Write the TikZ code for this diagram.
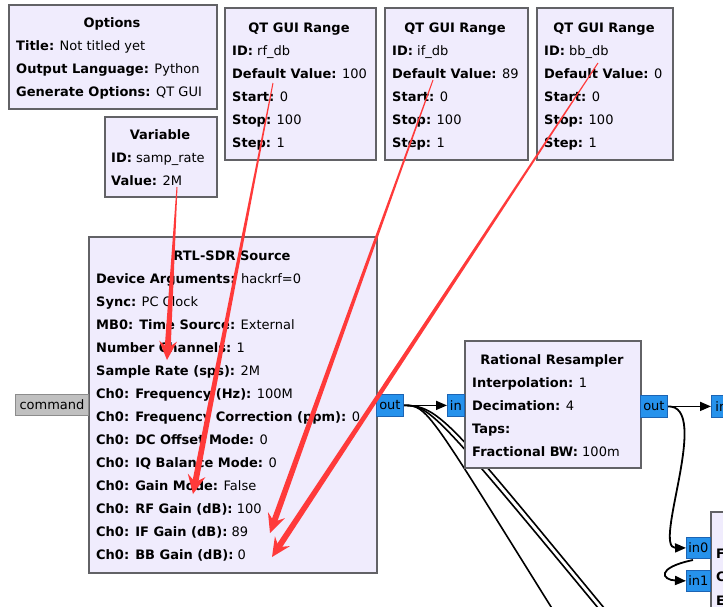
\documentclass[tikz,border=0pt]{standalone}
\usepackage{fontspec}
\setmainfont{DejaVu Sans}
\usetikzlibrary{positioning,calc,arrows.meta}

\definecolor{blkfill}{RGB}{240,236,253}
\definecolor{blkline}{RGB}{98,98,102}
\definecolor{portblue}{RGB}{38,146,236}
\definecolor{portline}{RGB}{28,100,180}
\definecolor{cmdgray}{RGB}{192,192,192}
\definecolor{cmdline}{RGB}{140,140,140}
\definecolor{annot}{RGB}{255,58,58}

\newcommand\kv[2]{\textbf{#1:} #2}
% tapered red hand-drawn arrow
\newcommand\markarrow[2]{%
  \fill[annot] ($(#1)!0.5pt!90:(#2)$) -- ($(#2)!12pt!(#1)!3pt!90:(#2)$)
    -- ($(#2)!12pt!(#1)!3pt!-90:(#2)$) -- ($(#1)!0.5pt!-90:(#2)$) -- cycle;
  \fill[annot] (#2) -- ($(#2)!19pt!(#1)!9pt!90:(#2)$) -- ($(#2)!12pt!(#1)$)
    -- ($(#2)!19pt!(#1)!9pt!-90:(#2)$) -- cycle;}

\tikzset{
  blk/.style={draw=blkline,fill=blkfill,line width=2.4pt,anchor=north west,inner sep=0pt},
  ttl/.style={font=\fontsize{13}{16}\selectfont\bfseries,anchor=base,inner sep=0pt},
  prm/.style={anchor=base west,inner sep=0pt},
  port/.style={draw=portline,fill=portblue,line width=0.8pt,inner sep=0pt,anchor=north west,minimum height=22pt},
  wire/.style={line width=1.8pt,-{Triangle[length=11pt,width=9pt]}},
  bus/.style={line width=1.6pt},
}

\begin{document}
\begin{tikzpicture}[x=1pt,y=-1pt,font=\fontsize{13}{16}\selectfont]
\useasboundingbox (0,0) rectangle (723,606);
\clip (0,0) rectangle (723,606);

% wires under the blocks
\coordinate (offA) at (563,626);
\coordinate (offB) at (613,626);
\coordinate (offC) at (619,626);
\coordinate (in1From) at (693,560);
\node[port,minimum width=27pt] (srcOut) at (376,394) {out};
\node[port,minimum width=17pt] (rsIn) at (447,394) {in};
\node[port,minimum width=27pt] (rsOut) at (640,395) {out};
\node[port,minimum width=20pt] (nextIn) at (711,395) {in};
\node[port,minimum width=24pt,minimum height=21pt] (in0) at (686,537) {in0};
\node[port,minimum width=24pt,minimum height=21pt] (in1) at (686,570) {in1};
\draw[bus] (srcOut.east) .. controls (428,405) and (428,410) .. (offA);
\draw[bus] (srcOut.east) .. controls (430,405) and (436,412) .. (offB);
\draw[bus] (srcOut.east) .. controls (440,405) and (452,424) .. (offC);
\draw[wire] (srcOut.east) -- (rsIn.west);
\draw[wire] (rsOut.east) -- (nextIn.west);
\draw[wire] (rsOut.east) .. controls (712,405) and (652,548) .. (in0.west);
\draw[wire] (in1From) .. controls (655,568) and (662,580) .. (in1.west);

% Options
\node[blk,minimum width=208pt,minimum height=104pt] (opt) at (8,4) {};
\node[ttl] (optT) at (112,27) {Options};
\foreach \t [count=\i] in {\kv{Title}{Not titled yet},\kv{Output Language}{Python},\kv{Generate Options}{QT GUI}}
  \node[prm] (opt\i) at (16,27+23*\i) {\t};

% Variable
\node[blk,minimum width=112pt,minimum height=80pt] (var) at (104,116) {};
\node[ttl] (varT) at (160,139) {Variable};
\node[prm] (var1) at (111,162) {\kv{ID}{samp\_rate}};
\node[prm] (var2) at (111,185) {\kv{Value}{2M}};

% QT GUI Range blocks
\node[blk,minimum width=151pt,minimum height=152pt] (rf) at (224,7) {};
\node[ttl] (rfT) at (299,32) {QT GUI Range};
\foreach \t [count=\i] in {\kv{ID}{rf\_db},\kv{Default Value}{100},\kv{Start}{0},\kv{Stop}{100},\kv{Step}{1}}
  \node[prm] (rf\i) at (232,32+23*\i) {\t};

\node[blk,minimum width=143pt,minimum height=152pt] (if) at (384,7) {};
\node[ttl] (ifT) at (455,32) {QT GUI Range};
\foreach \t [count=\i] in {\kv{ID}{if\_db},\kv{Default Value}{89},\kv{Start}{0},\kv{Stop}{100},\kv{Step}{1}}
  \node[prm] (if\i) at (392,32+23*\i) {\t};

\node[blk,minimum width=136pt,minimum height=152pt] (bb) at (536,7) {};
\node[ttl] (bbT) at (604,32) {QT GUI Range};
\foreach \t [count=\i] in {\kv{ID}{bb\_db},\kv{Default Value}{0},\kv{Start}{0},\kv{Stop}{100},\kv{Step}{1}}
  \node[prm] (bb\i) at (544,32+23*\i) {\t};

% RTL-SDR Source
\node[blk,minimum width=288pt,minimum height=336pt] (src) at (88,236) {};
\node[ttl] (srcT) at (232,260) {RTL-SDR Source};
\foreach \t [count=\i] in {\kv{Device Arguments}{hackrf=0},\kv{Sync}{PC Clock},\kv{MB0: Time Source}{External},
    \kv{Number Channels}{1},\kv{Sample Rate (sps)}{2M},\kv{Ch0: Frequency (Hz)}{100M},
    \kv{Ch0: Frequency Correction (ppm)}{0},\kv{Ch0: DC Offset Mode}{0},\kv{Ch0: IQ Balance Mode}{0},
    \kv{Ch0: Gain Mode}{False},\kv{Ch0: RF Gain (dB)}{100},\kv{Ch0: IF Gain (dB)}{89},\kv{Ch0: BB Gain (dB)}{0}}
  \node[prm] (src\i) at (96,260+23*\i) {\t};
\node[draw=cmdline,fill=cmdgray,line width=1pt,inner sep=0pt,anchor=north west,
  minimum width=73pt,minimum height=21pt] (cmd) at (15,394) {command};
\node[port,minimum width=27pt] at (srcOut.north west) {out};

% Rational Resampler
\node[blk,minimum width=176pt,minimum height=127pt] (rs) at (464,340) {};
\node[ttl] (rsT) at (552,364) {Rational Resampler};
\foreach \t [count=\i] in {\kv{Interpolation}{1},\kv{Decimation}{4},\kv{Taps}{},\kv{Fractional BW}{100m}}
  \node[prm] (rs\i) at (472,364+23*\i) {\t};
\node[port,minimum width=17pt] at (rsIn.north west) {in};
\node[port,minimum width=27pt] at (rsOut.north west) {out};

% block cut off at the right edge
\node[blk,minimum width=80pt,minimum height=120pt] (sink) at (710,511) {};
\node[prm,font=\fontsize{13}{16}\selectfont\bfseries] (sink1) at (716,558) {F};
\node[prm,font=\fontsize{13}{16}\selectfont\bfseries] (sink2) at (716,581) {C};
\node[prm,font=\fontsize{13}{16}\selectfont\bfseries] (sink3) at (716,605) {E};
\node[port,minimum width=24pt,minimum height=21pt] at (in0.north west) {in0};
\node[port,minimum width=24pt,minimum height=21pt] at (in1.north west) {in1};

% red notes
\coordinate (rateFrom) at (177,187);
\coordinate (rateTo) at (167,360);
\coordinate (rfFrom) at (273,83);
\coordinate (rfTo) at (193,494);
\coordinate (ifFrom) at (433,80);
\coordinate (ifTo) at (270,533);
\coordinate (bbFrom) at (598,63);
\coordinate (bbTo) at (272,557);
\markarrow{rateFrom}{rateTo}
\markarrow{rfFrom}{rfTo}
\markarrow{ifFrom}{ifTo}
\markarrow{bbFrom}{bbTo}
\end{tikzpicture}
\end{document}
